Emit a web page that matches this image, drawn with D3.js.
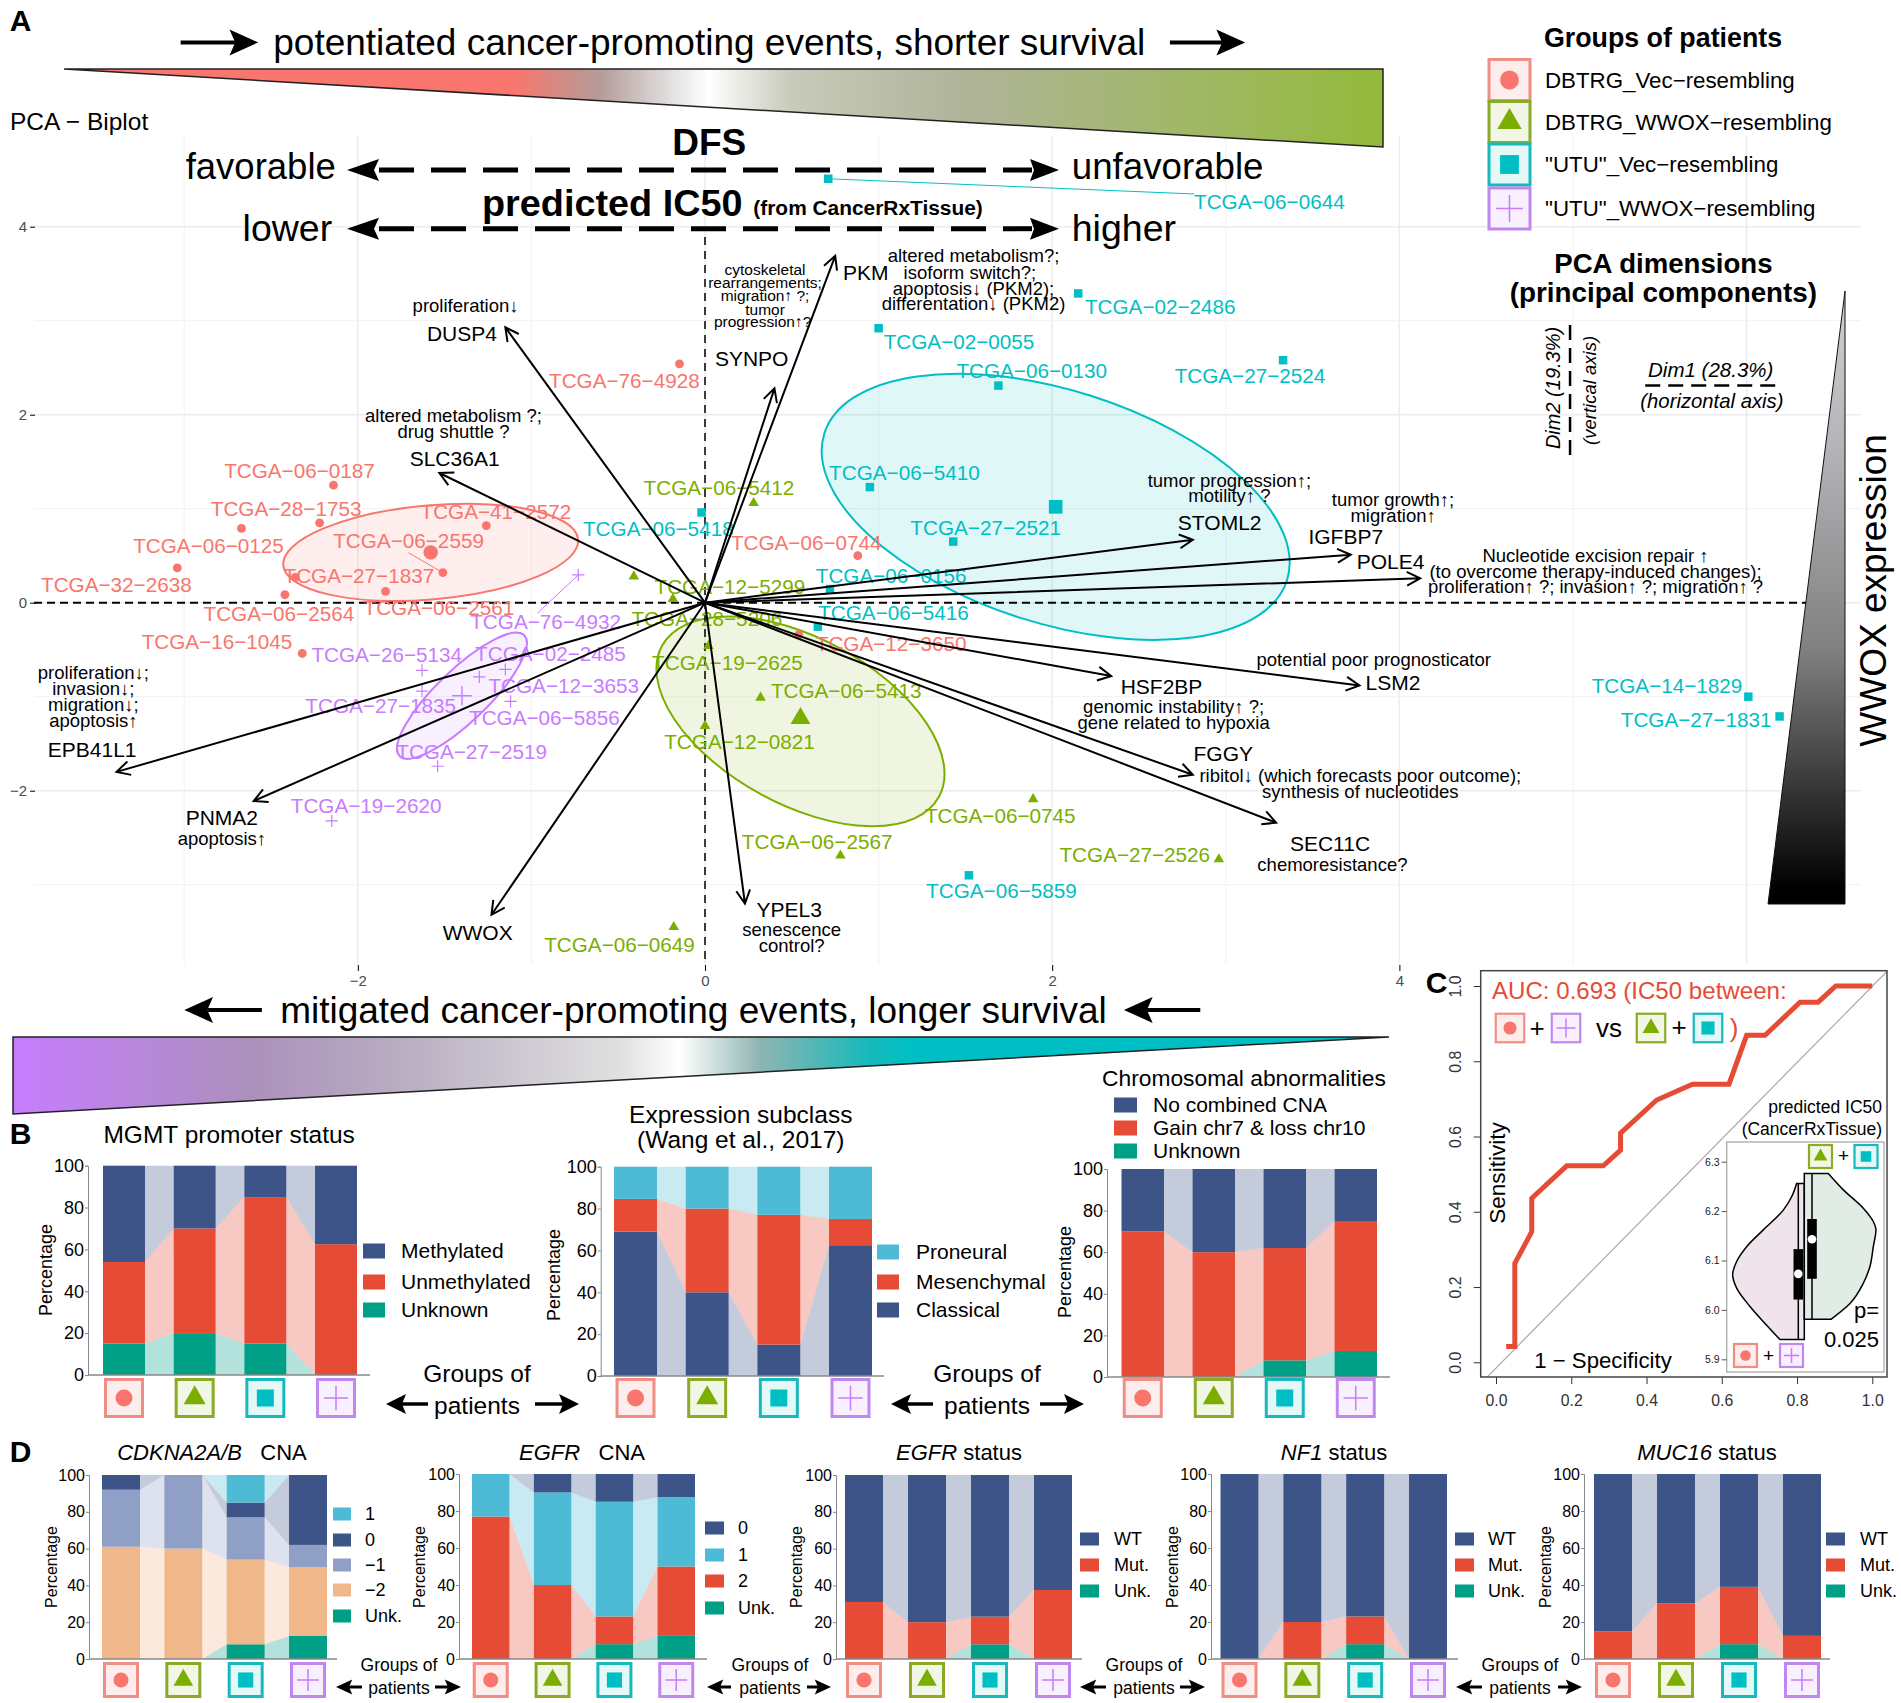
<!DOCTYPE html>
<html><head><meta charset="utf-8">
<script src="https://cdn.jsdelivr.net/npm/d3@7/dist/d3.min.js"></script>
<style>html,body{margin:0;padding:0;background:#fff}svg{display:block}text{font-family:"Liberation Sans",Arial,sans-serif}</style>
</head><body><svg id="c" width="1901" height="1703"></svg>
<script>
// ---------- DATA ----------
const groups=["DBTRG_Vec\u2212resembling","DBTRG_WWOX\u2212resembling","\"UTU\"_Vec\u2212resembling","\"UTU\"_WWOX\u2212resembling"];
const patientIds=["TCGA\u221276\u22124928","TCGA\u221206\u22120187","TCGA\u221228\u22121753","TCGA\u221241\u22122572","TCGA\u221206\u22120125","TCGA\u221206\u22122559","TCGA\u221227\u22121837","TCGA\u221232\u22122638","TCGA\u221206\u22122564","TCGA\u221206\u22122561","TCGA\u221216\u22121045","TCGA\u221206\u22120744","TCGA\u221212\u22123650",
"TCGA\u221206\u22125412","TCGA\u221212\u22125299","TCGA\u221228\u22125206","TCGA\u221219\u22122625","TCGA\u221206\u22125413","TCGA\u221212\u22120821","TCGA\u221206\u22122567","TCGA\u221206\u22120745","TCGA\u221227\u22122526","TCGA\u221206\u22120649",
"TCGA\u221206\u22120644","TCGA\u221202\u22122486","TCGA\u221202\u22120055","TCGA\u221227\u22122524","TCGA\u221206\u22120130","TCGA\u221206\u22125410","TCGA\u221227\u22122521","TCGA\u221206\u22125418","TCGA\u221206\u22120156","TCGA\u221206\u22125416","TCGA\u221214\u22121829","TCGA\u221227\u22121831","TCGA\u221206\u22125859",
"TCGA\u221276\u22124932","TCGA\u221226\u22125134","TCGA\u221202\u22122485","TCGA\u221212\u22123653","TCGA\u221227\u22121835","TCGA\u221206\u22125856","TCGA\u221227\u22122519","TCGA\u221219\u22122620"];
const patientGroup=[0,0,0,0,0,0,0,0,0,0,0,0,0, 1,1,1,1,1,1,1,1,1,1, 2,2,2,2,2,2,2,2,2,2,2,2,2, 3,3,3,3,3,3,3,3];
const patientDim1=[-0.147,-2.14,-2.22,-1.26,-2.67,-1.51,-2.36,-3.04,-2.42,-1.84,-2.32,0.88,0.54,
0.28,-0.41,-0.185,0.02,0.32,0.0,0.78,1.89,2.96,-0.18,
0.71,2.15,1.0,3.33,1.69,0.95,1.43,-0.02,0.72,0.65,6.01,6.19,1.52,
-0.73,-1.63,-1.15,-1.3,-1.63,-1.12,-1.54,-2.15];
const patientDim2=[2.54,1.25,0.85,0.82,0.79,0.32,0.27,0.37,0.085,0.12,-0.54,0.5,-0.34,
1.06,0.28,0.04,-0.46,-1.01,-1.31,-2.69,-2.09,-2.73,-3.45,
4.51,3.29,2.92,2.58,2.31,1.23,0.65,0.96,0.145,-0.255,-1.0,-1.21,-2.9,
0.295,-0.72,-0.71,-0.79,-0.94,-1.05,-1.74,-2.32];
const centroidDim1=[-1.58,0.55,2.02,-1.4];
const centroidDim2=[0.535,-1.23,1.02,-0.99];
const geneNames=["PKM","SYNPO","DUSP4","SLC36A1","STOML2","IGFBP7","POLE4","HSF2BP","LSM2","FGGY","SEC11C","YPEL3","WWOX","PNMA2","EPB41L1"];
const geneDim1=[0.75,0.40,-1.15,-1.53,2.81,3.72,4.12,2.34,3.77,2.81,3.29,0.23,-1.23,-2.6,-3.39];
const geneDim2=[3.69,2.28,2.93,1.38,0.67,0.51,0.26,-0.78,-0.88,-1.83,-2.34,-3.2,-3.32,-2.11,-1.8];
const rocFpr=[0.027,0.05,0.05,0.095,0.095,0.188,0.285,0.331,0.331,0.427,0.522,0.619,0.666,0.715,0.808,0.856,0.903,1.0];
const rocTpr=[0.042,0.042,0.263,0.347,0.436,0.522,0.522,0.564,0.609,0.697,0.739,0.739,0.869,0.869,0.957,0.957,1,1];
const vioLeftVal=[6.256,6.229,6.202,6.162,6.128,6.098,6.071,6.044,6.007,5.969,5.94];
const vioLeftDen=[.23,.38,.63,1.23,1.73,2.03,2.15,2.03,1.63,1.13,.73];
const vioRightVal=[6.276,6.243,6.206,6.179,6.162,6.128,6.088,6.054,6.013,5.981];
const vioRightDen=[.72,1.17,1.77,2.07,2.15,2.07,1.97,1.77,1.37,.80];
const boxLeft=[5.94,6.021,6.073,6.123,6.256];
const boxRight=[5.981,6.063,6.143,6.184,6.276];
const mgmtKeys=["Unknown","Unmethylated","Methylated"], mgmtVals=[[15,20,15,0],[39,50,70,62.5],[46,30,15,37.5]];
const subclassKeys=["Classical","Mesenchymal","Proneural"], subclassVals=[[69,40,15,62.5],[15.6,40,62,12.5],[15.4,20,23,25]];
const chromKeys=["Unknown","Gain chr7 & loss chr10","No combined CNA"], chromVals=[[0,0,8,12.5],[70,60,54,62.5],[30,40,38,25]];
const cdknKeys=["Unk.","\u22122","\u22121","0","1"], cdknVals=[[0,0,8,12.5],[61,60,46,37.5],[31,40,23,12],[8,0,8,38],[0,0,15,0]];
const egfrCnaKeys=["Unk.","2","1","0"], egfrCnaVals=[[0,0,8,12.5],[77,40,15,37.5],[23,50,62,37.5],[0,10,15,12.5]];
const statusKeys=["Unk.","Mut.","WT"];
const egfrStatVals=[[0,0,8,0],[31,20,15,37.5],[69,80,77,62.5]];
const nf1Vals=[[0,0,8,0],[0,20,15,0],[100,80,77,100]];
const muc16Vals=[[0,0,8,0],[15,30,31,12.5],[85,70,61,87.5]];
const yTicks=[0,20,40,60,80,100];

// ---------- STYLE ----------
const groupCol=["#f8766d","#7cae00","#00bfc4","#c77cff"];
const groupTint=["#fdeeed","#f1f6e5","#e5f8f8","#f8f0ff"];
const groupEdge=["#f08d85","#8aab25","#18b8bf","#bf88f0"];
const keyCol={"Unknown":"#00a087","Unk.":"#00a087","Unmethylated":"#e64b35","Mesenchymal":"#e64b35","Gain chr7 & loss chr10":"#e64b35","2":"#e64b35","Mut.":"#e64b35",
"Methylated":"#3c5488","Classical":"#3c5488","No combined CNA":"#3c5488","0":"#3c5488","WT":"#3c5488","Proneural":"#4dbbd5","1":"#4dbbd5","\u22122":"#f0b78a","\u22121":"#8f9fc6"};
const s=v=>v*1.2124;
const svg=d3.select("#c");
const defs=svg.append("defs");
function T(x,y,str,o={}){
  const e=svg.append("text").attr("x",x).attr("y",y).attr("dy",".35em").text(str)
   .attr("font-size",o.size||18).attr("text-anchor",o.anchor||"middle").attr("fill",o.color||"#000");
  if(o.weight)e.attr("font-weight",o.weight);
  if(o.italic)e.attr("font-style","italic");
  if(o.rot!==undefined)e.attr("transform",`rotate(${o.rot} ${x} ${y})`);
  if(o.family)e.style("font-family",o.family);
  return e;
}
function grad(id,x1,y1,x2,y2,stops){
  const g=defs.append("linearGradient").attr("id",id).attr("gradientUnits","userSpaceOnUse").attr("x1",x1).attr("y1",y1).attr("x2",x2).attr("y2",y2);
  const L=Math.hypot(x2-x1,y2-y1);
  stops.forEach(([p,c])=>g.append("stop").attr("offset",(Math.abs(p-(x1!==x2?x1:y1))/L)).attr("stop-color",c));
}
function solidArrow(x1,y1,x2,y2,w,hl,hw,dash){
  const a=Math.atan2(y2-y1,x2-x1),c=Math.cos(a),n=Math.sin(a);
  const bx=x2-hl*c,by=y2-hl*n;
  const l=svg.append("line").attr("x1",x1).attr("y1",y1).attr("x2",bx).attr("y2",by).attr("stroke","#000").attr("stroke-width",w);
  if(dash)l.attr("stroke-dasharray",dash);
  svg.append("path").attr("d",`M${x2},${y2}L${bx-hw*n-hl*.25*c},${by+hw*c-hl*.25*n}L${bx},${by}L${bx+hw*n-hl*.25*c},${by-hw*c-hl*.25*n}Z`).attr("fill","#000");
}
function glyph(g,i,k){
  const sz=k;
  if(i==0)return d3.symbol(d3.symbolCircle,Math.PI*Math.pow(8.5*sz,2))();
  if(i==1)return d3.symbol(d3.symbolTriangle,.433*Math.pow(22*sz,2))();
  if(i==2)return d3.symbol(d3.symbolSquare,Math.pow(17*sz,2))();
  return `M${-12.2*sz},0L${12.2*sz},0M0,${-12.2*sz}L0,${12.2*sz}`;
}
function icon(cx,cy,sz,i){
  const h=sz/2,g=svg.append("g").attr("transform",`translate(${cx},${cy})`);
  g.append("rect").attr("x",-h).attr("y",-h).attr("width",sz).attr("height",sz).attr("fill",groupTint[i]).attr("stroke",groupEdge[i]).attr("stroke-width",sz>30?3:2.2);
  const p=g.append("path").attr("d",glyph(g,i,sz/37));
  if(i==3)p.attr("fill","none").attr("stroke",groupCol[3]).attr("stroke-width",1.5); else p.attr("fill",groupCol[i]);
}

// ---------- PANEL A : BIPLOT ----------
const x=d3.scaleLinear().domain([0,2]).range([705,1052.2]);
const y=d3.scaleLinear().domain([0,2]).range([602.7,414.7]);
const gGrid=svg.append("g");
[-3,-2,-1,0,1,2,3,4,5,6].forEach(v=>gGrid.append("line").attr("x1",x(v)).attr("x2",x(v)).attr("y1",136).attr("y2",965).attr("stroke",v%2?"#f2f2f2":"#ececec").attr("stroke-width",v%2?1:1.5));
[-3,-2,-1,0,1,2,3,4].forEach(v=>gGrid.append("line").attr("y1",y(v)).attr("y2",y(v)).attr("x1",34).attr("x2",1861).attr("stroke",v%2?"#f2f2f2":"#ececec").attr("stroke-width",v%2?1:1.5));
// axes
const axL=svg.append("g").attr("transform","translate(35,0)").call(d3.axisLeft(y).tickValues([-2,0,2,4]).tickFormat(d3.format("d")).tickSize(5).tickPadding(3));
axL.select(".domain").remove();
const axB=svg.append("g").attr("transform","translate(0,965)").call(d3.axisBottom(x).tickValues([-2,0,2,4]).tickFormat(d3.format("d")).tickSize(6).tickPadding(4));
axB.select(".domain").remove();
[axL,axB].forEach(a=>a.selectAll("text").attr("font-size",15).attr("fill","#4d4d4d").style("font-family",'"Liberation Sans"'));
// ellipses
const ellipseA=[148,157.7,242.7,86.7], ellipseB=[47,83,116.5,25.8], ellipseRot=[-5,28.6,17.6,-44];
groupCol.forEach((c,i)=>{
  svg.append("ellipse").attr("cx",x(centroidDim1[i])).attr("cy",y(centroidDim2[i])+(i==1?3:0)).attr("rx",ellipseA[i]).attr("ry",ellipseB[i])
   .attr("transform",`rotate(${ellipseRot[i]} ${x(centroidDim1[i])} ${y(centroidDim2[i])+(i==1?3:0)})`)
   .attr("fill",c).attr("fill-opacity",.12).attr("stroke",c).attr("stroke-width",2);
});
// zero lines
svg.append("line").attr("x1",34).attr("x2",1810).attr("y1",y(0)).attr("y2",y(0)).attr("stroke","#000").attr("stroke-width",2).attr("stroke-dasharray","8,5");
svg.append("line").attr("x1",x(0)).attr("x2",x(0)).attr("y1",237).attr("y2",965).attr("stroke","#000").attr("stroke-width",1.5).attr("stroke-dasharray","8,6");
// label layout, in px of the shrunken view
const labelPos={0:[515,314],1:[247,388],2:[236,420],3:[409,422],4:[172,450],5:[337,446],6:[296,475],7:[96,482],8:[230,506],9:[362,501],10:[179,529],11:[665,448],12:[735,531],
13:[593,402],14:[602,484],15:[583,510],16:[600,547],17:[698,570],18:[610,612],19:[674,694],20:[825,673],21:[936,705],22:[511,779],
23:[1047,166],24:[957,253],25:[791,282],26:[1031,310],27:[851,306],28:[746,390],29:[813,435],30:[543,436],31:[735,475],32:[737,505],33:[1375,566],34:[1399,594],35:[826,735],
36:[450,513],37:[319,540],38:[454,539],39:[465,566],40:[314,582],41:[449,592],42:[389,620],43:[302,665]};
const segEnd={23:[985,160],5:[337,456],36:[443,506]};
Object.entries(segEnd).forEach(([k,e])=>{svg.append("line").attr("x1",x(patientDim1[k])).attr("y1",y(patientDim2[k])).attr("x2",s(e[0])).attr("y2",s(e[1])).attr("stroke",groupCol[patientGroup[k]]).attr("stroke-width",1);});
patientIds.forEach((id,i)=>{
  const g=patientGroup[i];
  const p=svg.append("path").attr("transform",`translate(${x(patientDim1[i])},${y(patientDim2[i])})`).attr("d",glyph(null,g,g==0?.52:g==1?.48:g==2?.5:.5));
  if(g==3)p.attr("fill","none").attr("stroke",groupCol[3]).attr("stroke-width",1.2);else p.attr("fill",groupCol[g]);
  T(s(labelPos[i][0]),s(labelPos[i][1]),id,{size:20.7,color:groupCol[g]});
});
centroidDim1.forEach((v,i)=>{
  const p=svg.append("path").attr("transform",`translate(${x(v)},${y(centroidDim2[i])})`).attr("d",glyph(null,i,i==0?.85:i==1?.9:.8));
  if(i==3)p.attr("fill","none").attr("stroke",groupCol[3]).attr("stroke-width",1.4);else p.attr("fill",groupCol[i]);
});
// gene arrows
geneNames.forEach((n,i)=>{
  const X=x(geneDim1[i]),Y=y(geneDim2[i]),a=Math.atan2(Y-y(0),X-x(0)),L=15,A=.48;
  svg.append("path").attr("d",`M${x(0)},${y(0)}L${X},${Y}M${X-L*Math.cos(a-A)},${Y-L*Math.sin(a-A)}L${X},${Y}L${X-L*Math.cos(a+A)},${Y-L*Math.sin(a+A)}`)
   .attr("fill","none").attr("stroke","#000").attr("stroke-width",2);
});
const geneLabel={PKM:[714,225],SYNPO:[620,296],DUSP4:[381,275],SLC36A1:[375,378],STOML2:[1006,431],IGFBP7:[1110,443],POLE4:[1147,463],HSF2BP:[958,566],LSM2:[1149,563],FGGY:[1009,622],SEC11C:[1097,696],YPEL3:[651,750],WWOX:[394,769],PNMA2:[183,674],EPB41L1:[76,618]};
geneNames.forEach(n=>T(s(geneLabel[n][0]),s(geneLabel[n][1]),n,{size:21}));
const notes=[["cytoskeletal",631,222,15.5],["rearrangements;",631,233,15.5],["migration\u2191 ?;",631,244,15.5],["tumor",631,255,15.5],["progression\u2191?",629,265,15.5],
["altered metabolism?;",803,211,18.5],["isoform switch?;",800,225,18.5],["apoptosis\u2193 (PKM2);",803,238,18.5],["differentation\u2193 (PKM2)",803,250,18.5],
["proliferation\u2193",384,252,18.5],["altered metabolism ?;",374,343,18.5],["drug shuttle ?",374,356,18.5],
["tumor progression\u2191;",1014,396,18.5],["motility\u2191 ?",1014,409,18.5],["tumor growth\u2191;",1149,412,18.5],["migration\u2191",1149,425,18.5],
["Nucleotide excision repair \u2191",1316,458,18.5],["(to overcome therapy-induced changes);",1316,471,18.5],["proliferation\u2191 ?; invasion\u2191 ?; migration\u2191 ?",1316,484,18.5],
["potential poor prognosticator",1133,544,18.5],["genomic instability\u2191 ?;",968,583,18.5],["gene related to hypoxia",968,596,18.5],
["ribitol\u2193 (which forecasts poor outcome);",1122,640,18.5],["synthesis of nucleotides",1122,653,18.5],["chemoresistance?",1099,713,18.5],
["senescence",653,767,18.5],["control?",653,780,18.5],["apoptosis\u2191",183,692,18.5],["proliferation\u2193;",77,555,18.5],["invasion\u2193;",77,568,18.5],["migration\u2193;",77,581,18.5],["apoptosis\u2191",77,594,18.5]];
notes.forEach(n=>T(s(n[1]),s(n[2]),n[0],{size:n[3]}));

// gradient banners
grad("gTop",64,0,1383,0,[[64,"#f8766d"],[515,"#f8766d"],[600,"#b39c9a"],[680,"#e8e8e8"],[709,"#ffffff"],[790,"#c9cabb"],[960,"#b0b49a"],[1383,"#93ba3a"]]);
svg.append("path").attr("d","M64,69L1383,69L1383,147Z").attr("fill","url(#gTop)").attr("stroke","#222").attr("stroke-width",1.5);
grad("gBot",13,0,1389,0,[[13,"#c77cff"],[250,"#ab90bb"],[400,"#b9adc2"],[620,"#e0e0e0"],[680,"#ffffff"],[760,"#8fb5b2"],[870,"#15b9ba"],[912,"#00bfc4"],[1389,"#00bfc4"]]);
svg.append("path").attr("d","M13,1037L1389,1037L13,1114Z").attr("fill","url(#gBot)").attr("stroke","#222").attr("stroke-width",1.5);
grad("gRight",0,291,0,904,[[291,"#d0d0d4"],[450,"#b4b4b8"],[650,"#808080"],[890,"#000000"],[904,"#000000"]]);
svg.append("path").attr("d","M1845,291L1845,904L1768,904Z").attr("fill","url(#gRight)").attr("stroke","#111").attr("stroke-width",1);
T(s(1545),s(487),"WWOX expression",{size:37,rot:-90});
// title arrows and titles
T(s(585),s(35),"potentiated cancer-promoting events, shorter survival",{size:37});
solidArrow(s(149),s(35),s(213),s(35),4,23,13);
solidArrow(s(965),s(35),s(1027),s(35),4,23,13);
T(s(572),s(833),"mitigated cancer-promoting events, longer survival",{size:37});
solidArrow(s(216),s(833),s(152),s(833),4,23,13);
solidArrow(s(990),s(833),s(927),s(833),4,23,13);
T(10,s(100),"PCA \u2212 Biplot",{size:24.5,anchor:"start"});
[["A",8,17],["B",8,935],["C",1176,810],["D",8,1197]].forEach(a=>T(s(a[1]),s(a[2]),a[0],{size:30,weight:"bold",anchor:"start"}));
T(s(585),s(117),"DFS",{size:37,weight:"bold"});
T(s(505),s(167),"predicted IC50",{size:37.8,weight:"bold"});
T(s(716),s(171),"(from CancerRxTissue)",{size:20.9,weight:"bold"});
T(s(277),s(137),"favorable",{size:36.5,anchor:"end"});
T(s(884),s(137),"unfavorable",{size:36.7,anchor:"start"});
T(s(274),s(188),"lower",{size:37.5,anchor:"end"});
T(s(884),s(188),"higher",{size:37.5,anchor:"start"});
[170,228.7].forEach(Y=>{
  svg.append("line").attr("x1",379).attr("x2",1032).attr("y1",Y).attr("y2",Y).attr("stroke","#000").attr("stroke-width",5).attr("stroke-dasharray","35,17");
  svg.append("path").attr("d",`M347,${Y}L379,${Y-11}L374,${Y}L379,${Y+11}Z`).attr("fill","#000");
  svg.append("path").attr("d",`M1059,${Y}L1030,${Y-11}L1034,${Y}L1030,${Y+11}Z`).attr("fill","#000");
});
// legend of groups
T(1663,s(31),"Groups of patients",{size:26.8,weight:"bold"});
[80,122,164.5,208.5].forEach((Y,i)=>{icon(1509.5,Y,41,i);T(1545,Y,groups[i],{size:22.3,anchor:"start"});});
// PCA dims
T(s(1372),s(217),"PCA dimensions",{size:27.6,weight:"bold"});
T(s(1372),s(241),"(principal components)",{size:27.8,weight:"bold"});
T(s(1411),s(305),"Dim1 (28.3%)",{size:20.5,italic:true});
T(s(1412),s(331),"(horizontal axis)",{size:20.3,italic:true});
svg.append("line").attr("x1",s(1357)).attr("x2",s(1465)).attr("y1",s(318)).attr("y2",s(318)).attr("stroke","#000").attr("stroke-width",2.5).attr("stroke-dasharray","15,8");
T(s(1281),s(320),"Dim2 (19.3%)",{size:20,italic:true,rot:-90});
T(s(1311),s(322),"(vertical axis)",{size:18.5,italic:true,rot:-90});
svg.append("line").attr("x1",s(1295)).attr("x2",s(1295)).attr("y1",s(268)).attr("y2",s(376)).attr("stroke","#000").attr("stroke-width",2.5).attr("stroke-dasharray","15,8");

// ---------- STACKED PANELS ----------
function stacked(o){
  const idx=[0,1,2,3];
  const S=(o.x1-o.x0-o.bw)/3;
  const xb=d3.scaleBand().domain(idx).range([o.x0,o.x1]).paddingInner(1-o.bw/S).paddingOuter(0);
  const yb=d3.scaleLinear().domain([0,100]).range([o.base,o.top]);
  const rows=idx.map(i=>{const r={i};o.keys.forEach((k,j)=>r[k]=o.vals[j][i]);return r;});
  const ser=d3.stack().keys(o.keys)(rows);
  const g=svg.append("g");
  ser.forEach(sr=>{
    const c=keyCol[sr.key];
    for(let i=0;i<3;i++){
      const a=xb(i)+xb.bandwidth(),b=xb(i+1);
      g.append("path").attr("d",`M${a},${yb(sr[i][0])}L${a},${yb(sr[i][1])}L${b},${yb(sr[i+1][1])}L${b},${yb(sr[i+1][0])}Z`).attr("fill",c).attr("fill-opacity",.3);
    }
    g.selectAll(null).data(sr).enter().append("rect").attr("x",(d,i)=>xb(i)).attr("width",xb.bandwidth()).attr("y",d=>yb(d[1])).attr("height",d=>yb(d[0])-yb(d[1])).attr("fill",c);
  });
  const ax=svg.append("g").attr("transform",`translate(${o.axX},0)`).call(d3.axisLeft(yb).tickValues(yTicks).tickSize(3).tickPadding(1));
  ax.selectAll("path,line").attr("stroke","#888");
  ax.selectAll("text").attr("font-size",o.tick).attr("fill","#000").style("font-family",'"Liberation Sans"');
  svg.append("line").attr("x1",o.axX).attr("x2",o.axEnd).attr("y1",yb(0)).attr("y2",yb(0)).attr("stroke","#888").attr("stroke-width",1.5);
  T(o.pctX,o.pctY,"Percentage",{size:o.pct,rot:-90,family:'"Liberation Sans"'});
  idx.forEach(i=>icon(xb(i)+xb.bandwidth()/2,o.iconY,o.iconS,i));
  if(o.leg)o.leg.labels.forEach((k,i)=>{
    g.append("rect").attr("x",o.leg.x).attr("width",o.leg.w).attr("y",o.leg.ys[i]-o.leg.h/2).attr("height",o.leg.h).attr("fill",keyCol[k]);
    T(o.leg.tx,o.leg.ys[i],k,{size:o.leg.size,anchor:"start"});
  });
}
stacked({keys:mgmtKeys,vals:mgmtVals,top:1165.7,base:1375,x0:103,x1:357,bw:42,axX:88,axEnd:370,tick:18,pct:18,pctX:45.6,pctY:1270,iconY:1398,iconS:37,
 leg:{labels:["Methylated","Unmethylated","Unknown"],x:363,w:22,h:15,ys:[1251,1282,1310],tx:401,size:21}});
stacked({keys:subclassKeys,vals:subclassVals,top:1166.7,base:1376,x0:614,x1:872,bw:43,axX:600.7,axEnd:884,tick:18,pct:18,pctX:554,pctY:1275,iconY:1398,iconS:37,
 leg:{labels:["Proneural","Mesenchymal","Classical"],x:877,w:22,h:15,ys:[1252,1282,1310],tx:916,size:21}});
stacked({keys:chromKeys,vals:chromVals,top:1169,base:1377,x0:1121.5,x1:1377,bw:42.5,axX:1107,axEnd:1390,tick:18,pct:18,pctX:1065,pctY:1272,iconY:1398,iconS:37,
 leg:{labels:["No combined CNA","Gain chr7 & loss chr10","Unknown"],x:1114,w:23,h:15,ys:[1105,1128,1151],tx:1153,size:21}});
T(s(1026),s(889),"Chromosomal abnormalities",{size:22.8});
T(s(189),s(936),"MGMT promoter status",{size:24.5});
T(s(611),s(919),"Expression subclass",{size:24.5});
T(s(611),s(940),"(Wang et al., 2017)",{size:24.5});
function groupsOf(cx,y1,y2,size,a1,a2,a3,a4,w,hl,hw){
  T(cx,y1,"Groups of",{size});T(cx,y2,"patients",{size});
  solidArrow(a1,y2-1,a2,y2-1,w,hl,hw);solidArrow(a3,y2-1,a4,y2-1,w,hl,hw);
}
groupsOf(477,1373,1405,24.5,428,386,535,579,3.5,16,10);
groupsOf(987,1373,1405,24.5,933,891,1040,1084,3.5,16,10);
const dTop=1475,dBase=1659;
stacked({keys:cdknKeys,vals:cdknVals,top:dTop,base:dBase,x0:102,x1:327,bw:38,axX:89,axEnd:337,tick:16,pct:16,pctX:51,pctY:1567,iconY:1680,iconS:33,
 leg:{labels:["1","0","\u22121","\u22122","Unk."],x:333,w:18,h:13,ys:[1514,1540,1565,1590,1616],tx:365,size:18}});
stacked({keys:egfrCnaKeys,vals:egfrCnaVals,top:dTop-1,base:dBase,x0:472,x1:695,bw:37.5,axX:459,axEnd:707,tick:16,pct:16,pctX:419,pctY:1567,iconY:1680,iconS:33,
 leg:{labels:["0","1","2","Unk."],x:705,w:19,h:13,ys:[1528,1555,1581,1608],tx:738,size:18}});
stacked({keys:statusKeys,vals:egfrStatVals,top:dTop,base:dBase,x0:845,x1:1072,bw:38,axX:836,axEnd:1082,tick:16,pct:16,pctX:796,pctY:1567,iconY:1680,iconS:33,
 leg:{labels:["WT","Mut.","Unk."],x:1080,w:19,h:13,ys:[1539,1565,1591],tx:1114,size:18}});
stacked({keys:statusKeys,vals:nf1Vals,top:dTop-1,base:dBase,x0:1220.5,x1:1447,bw:38,axX:1211,axEnd:1458,tick:16,pct:16,pctX:1172.5,pctY:1567,iconY:1680,iconS:33,
 leg:{labels:["WT","Mut.","Unk."],x:1455,w:19,h:13,ys:[1539,1565,1591],tx:1488,size:18}});
stacked({keys:statusKeys,vals:muc16Vals,top:dTop-1,base:dBase,x0:1594,x1:1821,bw:38,axX:1584,axEnd:1830,tick:16,pct:16,pctX:1545.5,pctY:1567,iconY:1680,iconS:33,
 leg:{labels:["WT","Mut.","Unk."],x:1826,w:19,h:13,ys:[1539,1565,1591],tx:1860,size:18}});
function dTitle(cx,it,rest){
  const e=T(cx,1452,"",{size:22});
  e.append("tspan").attr("font-style","italic").text(it);e.append("tspan").text(rest);
}
dTitle(212,"CDKNA2A/B","\u00a0\u00a0 CNA");dTitle(582,"EGFR","\u00a0\u00a0 CNA");dTitle(959,"EGFR"," status");dTitle(1334,"NF1"," status");dTitle(1707,"MUC16"," status");
groupsOf(399,1665,1688,17.5,362,336,435,461,3,13,7.5);
groupsOf(770,1665,1688,17.5,731,707,807,831,3,13,7.5);
groupsOf(1144,1665,1688,17.5,1106,1080,1180,1205,3,13,7.5);
groupsOf(1520,1665,1688,17.5,1482,1456,1558,1582,3,13,7.5);

// ---------- PANEL C : ROC ----------
const rx=d3.scaleLinear().domain([0,1]).range([1496,1872.3]);
const ry=d3.scaleLinear().domain([0,1]).range([1362.3,986]);
const rocTicks=[0,.2,.4,.6,.8,1];
const ax1=svg.append("g").attr("transform","translate(0,1377)").call(d3.axisBottom(rx).tickValues(rocTicks).tickFormat(d3.format(".1f")).tickSize(7).tickPadding(11));
const ax2=svg.append("g").attr("transform","translate(1480.7,0)").call(d3.axisLeft(ry).tickValues(rocTicks).tickFormat(d3.format(".1f")).tickSize(7).tickPadding(7));
ax1.select(".domain").remove();ax2.select(".domain").remove();
[ax1,ax2].forEach(a=>{a.selectAll("line").attr("stroke","#333");a.selectAll("text").attr("font-size",15.8).attr("fill","#333").style("font-family",'"Liberation Sans"');});
ax2.selectAll("text").attr("transform","rotate(-90)").attr("text-anchor","middle").attr("x",0).attr("dy","0").attr("y",-20);
svg.append("clipPath").attr("id","rocClip").append("rect").attr("x",1480.7).attr("y",970.7).attr("width",406.3).attr("height",406.3);
svg.append("line").attr("x1",rx(-.03)).attr("y1",ry(-.03)+6).attr("x2",rx(1.04)).attr("y2",ry(1.04)).attr("stroke","#aaa").attr("stroke-width",1.2).attr("clip-path","url(#rocClip)");
svg.append("path").attr("d",d3.line()(rocFpr.map((f,i)=>[rx(f),ry(rocTpr[i])]))).attr("fill","none").attr("stroke","#e64b35").attr("stroke-width",5).attr("stroke-linejoin","miter");
svg.append("rect").attr("x",1480.7).attr("y",970.7).attr("width",406.3).attr("height",406.3).attr("fill","none").attr("stroke","#444").attr("stroke-width",1.5);
T(1492,991,"AUC: 0.693 (IC50 between:",{size:24.1,anchor:"start",color:"#e64b35"});
icon(1510,1028,28.5,0);T(1537,1028,"+",{size:26});icon(1566,1028,28.5,3);T(1609,1028,"vs",{size:26});icon(1651,1028,28.5,1);T(1679,1027,"+",{size:26});icon(1708,1028,28.5,2);T(1734,1028,")",{size:26,color:"#e64b35"});
T(1497,1173,"Sensitivity",{size:22.6,rot:-90});
T(1603,1360,"1 \u2212 Specificity",{size:22.2});
T(1882,1107,"predicted IC50",{size:17.5,anchor:"end"});
T(1882,1129,"(CancerRxTissue)",{size:17.5,anchor:"end"});
svg.append("rect").attr("x",1726.7).attr("y",1142).attr("width",157.3).attr("height",230).attr("fill","#fff").attr("stroke","#aaa").attr("stroke-width",1.3);
const iy=d3.scaleLinear().domain([5.9,6.3]).range([1359.3,1161.7]);
const idn=v=>v*33.33;
const axI=svg.append("g").attr("transform","translate(1726.7,0)").call(d3.axisLeft(iy).tickValues([5.9,6,6.1,6.2,6.3]).tickFormat(d3.format(".1f")).tickSize(5).tickPadding(2));
axI.select(".domain").remove();axI.selectAll("line").attr("stroke","#555");axI.selectAll("text").attr("font-size",10.5).attr("fill","#222").style("font-family",'"Liberation Sans"');
const vc=1804.3;
const aL=d3.area().curve(d3.curveMonotoneY).y(d=>iy(d[0])).x0(vc).x1(d=>vc-idn(d[1]));
const aR=d3.area().curve(d3.curveMonotoneY).y(d=>iy(d[0])).x0(vc).x1(d=>vc+idn(d[1]));
svg.append("path").attr("d",aL(vioLeftVal.map((v,i)=>[v,vioLeftDen[i]]))+"Z").attr("fill","#efe4ec").attr("stroke","#000").attr("stroke-width",1.5);
svg.append("path").attr("d",aR(vioRightVal.map((v,i)=>[v,vioRightDen[i]]))+"Z").attr("fill","#e0ece4").attr("stroke","#000").attr("stroke-width",1.5);
[[boxLeft,1798.3],[boxRight,1812]].forEach(([b,X])=>{
  svg.append("line").attr("x1",X).attr("x2",X).attr("y1",iy(b[0])).attr("y2",iy(b[4])).attr("stroke","#000").attr("stroke-width",1.5);
  svg.append("rect").attr("x",X-4.8).attr("width",9.6).attr("y",iy(b[3])).attr("height",iy(b[1])-iy(b[3])).attr("fill","#000");
  svg.append("circle").attr("cx",X).attr("cy",iy(b[2])).attr("r",4.3).attr("fill","#fff");
});
icon(1820.5,1156.5,23,1);T(1843.5,1155,"+",{size:19});icon(1866,1156.5,23,2);
icon(1745.5,1355.5,23,0);T(1768.5,1355,"+",{size:19});icon(1791.5,1355.5,23,3);
T(1879,1310,"p=",{size:22,anchor:"end"});T(1879,1339,"0.025",{size:22,anchor:"end"});
</script></body></html>
